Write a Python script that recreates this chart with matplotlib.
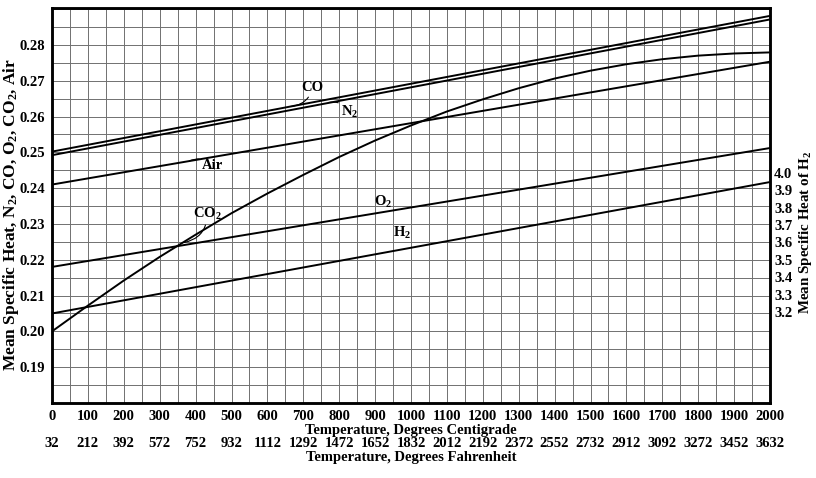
import matplotlib
matplotlib.use("Agg")
import matplotlib.pyplot as plt

# ---- data ----
temps_c = [0, 100, 200, 300, 400, 500, 600, 700, 800, 900, 1000,
           1100, 1200, 1300, 1400, 1500, 1600, 1700, 1800, 1900, 2000]
line_t = [0, 2000]
co = [0.2502, 0.2881]
n2 = [0.2492, 0.2871]
air = [0.2410, 0.2753]
o2 = [0.2180, 0.2512]
h2 = [0.2050, 0.2417]
co2 = [0.2000, 0.2072, 0.2142, 0.2208, 0.2270, 0.2330, 0.2385, 0.2437,
       0.2487, 0.2533, 0.2575, 0.2614, 0.2648, 0.2679, 0.2706, 0.2728,
       0.2746, 0.2760, 0.2770, 0.2776, 0.2779]

y_ticks = [0.19, 0.20, 0.21, 0.22, 0.23, 0.24, 0.25, 0.26, 0.27, 0.28]
h2_ticks = [3.2, 3.3, 3.4, 3.5, 3.6, 3.7, 3.8, 3.9, 4.0]
x_ticks = list(range(0, 2001, 100))
f_labels = ["32", "212", "392", "572", "752", "932", "1112", "1292", "1472",
            "1652", "1832", "2012", "2192", "2372", "2552", "2732", "2912",
            "3092", "3272", "3452", "3632"]

plt.rcParams['font.family'] = ['Liberation Serif', 'DejaVu Serif']
plt.rcParams['font.weight'] = 'bold'
plt.rcParams['mathtext.default'] = 'regular'

TS = 10.5

fig = plt.figure(figsize=(8.16, 4.78), dpi=100)
fig.patch.set_facecolor('white')
ax = fig.add_axes([52/816, 1 - 403/478, 718/816, 395/478])

ax.set_xlim(0, 2000)
ax.set_ylim(0.18, 0.2903)

# grid
ax.set_xticks([t for t in range(0, 2001, 50)], minor=True)
ax.set_yticks([0.18 + 0.005 * i for i in range(23)], minor=True)
ax.grid(which='minor', color='#707070', linewidth=0.7)
ax.grid(which='major', color='#707070', linewidth=0.7)
ax.tick_params(which='minor', length=0)

ax.set_xticks(x_ticks)
ax.set_xticklabels([str(t) for t in x_ticks])
ax.set_yticks(y_ticks)
ax.set_yticklabels(["%.2f" % v for v in y_ticks])
ax.tick_params(axis='both', which='major', length=0, labelsize=TS, pad=5)
for lab in ax.get_xticklabels() + ax.get_yticklabels():
    lab.set_fontweight('bold')

for s in ax.spines.values():
    s.set_linewidth(1.8)
    s.set_color('black')

lw = 1.4
ax.plot(line_t, co, color='black', lw=lw)
ax.plot(line_t, n2, color='black', lw=lw)
ax.plot(line_t, air, color='black', lw=lw)
ax.plot(line_t, o2, color='black', lw=lw)
ax.plot(line_t, h2, color='black', lw=lw)
ax.plot(temps_c, co2, color='black', lw=lw)

# labels with hooks
def hook(txt, xy, xytext, rad):
    ax.annotate(txt, xy=xy, xytext=xytext, fontsize=TS, fontweight='bold',
                ha='left', va='center',
                arrowprops=dict(arrowstyle='-', color='black', lw=0.8,
                                shrinkA=0, shrinkB=0,
                                connectionstyle='arc3,rad=%s' % rad))

hook("CO", (665, 0.2628), (695, 0.2680), -0.35)
hook("N$_2$", (770, 0.2639), (805, 0.2612), 0.35)
hook("Air", (383, 0.2476), (418, 0.2462), 0.35)
hook("CO$_2$", (368, 0.2248), (392, 0.2327), -0.4)
ax.text(922, 0.2361, "O$_2$", fontsize=TS, fontweight='bold', ha='center', va='center')
ax.text(975, 0.2275, "H$_2$", fontsize=TS, fontweight='bold', ha='center', va='center')

ax.set_xlabel("Temperature, Degrees Centigrade", fontsize=TS, fontweight='bold', labelpad=1)
ax.set_ylabel("Mean Specific Heat, N$_2$, CO, O$_2$, CO$_2$, Air", fontsize=12.5,
              fontweight='bold')
ax.yaxis.set_label_coords(-0.043, 0.476)

# Fahrenheit axis
sec = ax.secondary_xaxis(-0.078, functions=(lambda c: c * 1.8 + 32, lambda f: (f - 32) / 1.8))
sec.set_xticks([int(s) for s in f_labels])
sec.set_xticklabels(f_labels)
sec.tick_params(length=0, labelsize=TS, pad=2)
for lab in sec.get_xticklabels():
    lab.set_fontweight('bold')
sec.spines['bottom'].set_visible(False)
sec.set_xlabel("Temperature, Degrees Fahrenheit", fontsize=TS, fontweight='bold', labelpad=1)

# right H2 axis
ax2 = ax.twinx()
ax2.set_ylim(2.676, 4.950)
ax2.set_yticks(h2_ticks)
ax2.set_yticklabels(["%.1f" % v for v in h2_ticks])
ax2.tick_params(axis='y', length=0, labelsize=TS, pad=3)
for lab in ax2.get_yticklabels():
    lab.set_fontweight('bold')
ax2.set_ylabel("Mean Specific Heat of H$_2$", fontsize=10.8, fontweight='bold')
ax2.yaxis.set_label_coords(1.038, 0.433)
for s in ax2.spines.values():
    s.set_linewidth(1.8)

fig.savefig("out.png", dpi=100, facecolor='white')
